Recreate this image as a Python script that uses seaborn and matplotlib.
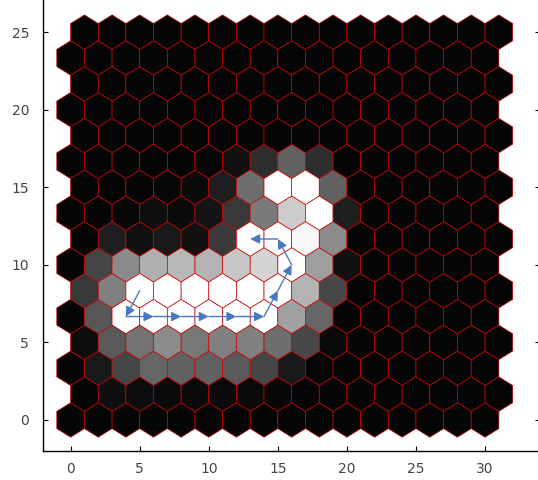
import numpy as np
import pandas as pd
import matplotlib
matplotlib.use("Agg")
import matplotlib.pyplot as plt
import seaborn as sns

# ---- data -------------------------------------------------------------
# grey level of every node of the 16 x 16 hexagonal map, bottom row first
# (even rows sit on x = 0, 2, ..., 30; odd rows on x = 1, 3, ..., 31)
B = 0.02
row0 = [B] * 16
row1 = [B, 0.06, 0.05, 0.04, 0.04, 0.04, 0.04, 0.03] + [B] * 8
row2 = [B, 0.10, 0.27, 0.40, 0.38, 0.38, 0.35, 0.27, 0.10, 0.03] + [B] * 6
row3 = [0.05, 0.35, 0.45, 0.55, 0.47, 0.50, 0.50, 0.43, 0.28, 0.04] + [B] * 6
row4 = [B, 0.34, 1.0, 1.0, 1.0, 1.0, 1.0, 1.0, 0.63, 0.40] + [B] * 6
row5 = [0.22, 0.50, 1.0, 1.0, 1.0, 1.0, 1.0, 1.0, 0.70, 0.28] + [B] * 6
row6 = [B, 0.27, 0.54, 0.69, 0.72, 0.70, 0.78, 0.83, 1.0, 0.62, 0.07] + [B] * 5
row7 = [B, 0.12, 0.07, 0.10, 0.07, 0.23, 1.0, 1.0, 0.97, 0.55] + [B] * 6
row8 = [B, B, 0.03, 0.06, 0.04, 0.08, 0.22, 0.48, 0.80, 1.0, 0.12] + [B] * 5
row9 = [B, B, B, 0.03, 0.04, 0.12, 0.43, 1.0, 1.0, 0.38] + [B] * 6
row10 = [B] * 6 + [0.07, 0.18, 0.38, 0.18] + [B] * 6
row11 = [B] * 16
row12 = [B] * 16
row13 = [B] * 16
row14 = [B] * 16
row15 = [B] * 16
rows = [row0, row1, row2, row3, row4, row5, row6, row7,
        row8, row9, row10, row11, row12, row13, row14, row15]

ROW_STEP = 5.0 / 3.0

# trajectory of best matching nodes: x position and row index
path_x = [5, 4, 6, 8, 10, 12, 14, 15, 16, 15, 13]
path_row = [5, 4, 4, 4, 4, 4, 4, 5, 6, 7, 7]

x_ticks = [0, 5, 10, 15, 20, 25, 30]
y_ticks = [0, 5, 10, 15, 20, 25]

# ---- table -------------------------------------------------------------
recs = []
for r, vals in enumerate(rows):
    for c, v in enumerate(vals):
        recs.append({"x": 2 * c + (r % 2), "y": r * ROW_STEP, "v": v})
df = pd.DataFrame(recs)

# ---- style -------------------------------------------------------------
sns.set_style("ticks", {"xtick.direction": "in", "ytick.direction": "in"})
plt.rcParams["font.family"] = ["DejaVu Sans"]

fig = plt.figure(figsize=(5.38, 4.8), dpi=100)
ax = fig.add_axes([43 / 538, 29 / 480, 497.3 / 538, 465.4 / 480])

ax.hexbin(df["x"], df["y"], C=df["v"], gridsize=(16, 8),
          extent=(0, 32, 0, 16 * ROW_STEP), cmap="gray", vmin=0, vmax=1,
          reduce_C_function=np.mean, edgecolors="#c80000", linewidths=0.5)

blue = "#4a78c0"
for i in range(len(path_x) - 1):
    ax.annotate("", xy=(path_x[i + 1], path_row[i + 1] * ROW_STEP),
                xytext=(path_x[i], path_row[i] * ROW_STEP),
                arrowprops=dict(arrowstyle="-|>", color=blue, lw=1.0,
                                mutation_scale=14, shrinkA=0, shrinkB=0))

ax.set_xlim(-2, 34)
ax.set_ylim(-2, 28)
ax.set_xticks(x_ticks)
ax.set_yticks(y_ticks)
for s in ax.spines.values():
    s.set_color("black")
    s.set_linewidth(1.0)
ax.spines["right"].set_visible(False)
ax.spines["top"].set_visible(False)
ax.tick_params(direction="in", length=3.6, width=0.8, color="black",
               labelcolor="#444444", labelsize=10)
ax.tick_params(axis="x", pad=8, top=False)
ax.tick_params(axis="y", pad=10, right=True, labelright=False)

fig.savefig("out.png", dpi=100)
